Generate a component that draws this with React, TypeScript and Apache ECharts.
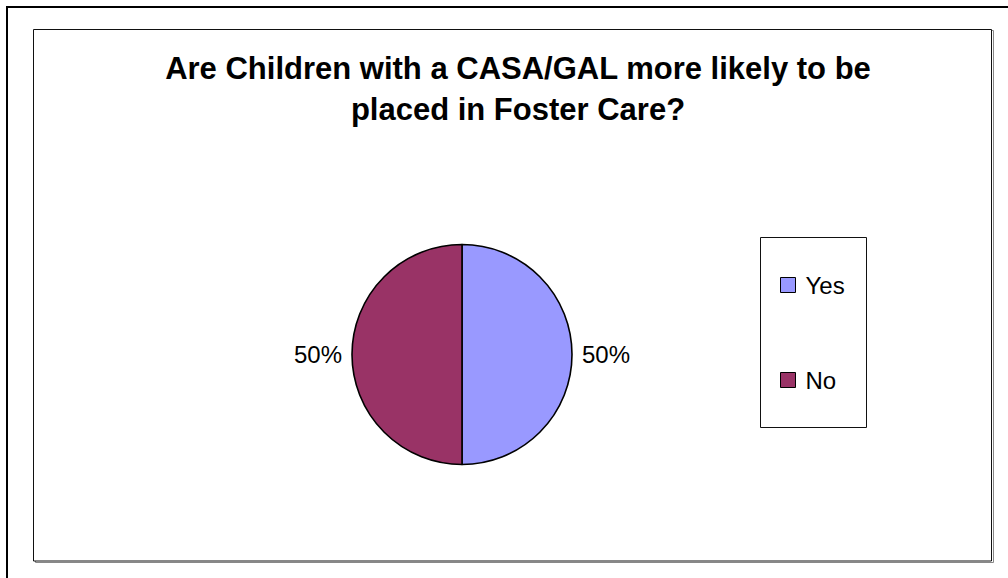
import React, { useEffect, useRef } from "react";
import * as echarts from "echarts";

const titleLines = ["Are Children with a CASA/GAL more likely to be", "placed in Foster Care?"];
const categories = ["Yes", "No"];
const values = [50, 50];
const colors = ["#9999FF", "#993366"];

export default function App() {
  const ref = useRef<HTMLDivElement>(null);
  useEffect(() => {
    document.body.style.margin = "0";
    const chart = echarts.init(ref.current!, null, { renderer: "svg" });
    const font = "'Liberation Sans', Arial, sans-serif";
    chart.setOption({
      animation: false,
      backgroundColor: "#ffffff",
      title: {
        text: titleLines.join("\n"),
        left: 513,
        top: 43,
        textAlign: "center",
        textStyle: {
          fontFamily: font,
          fontSize: 31,
          fontWeight: "bold",
          color: "#000",
          lineHeight: 41,
        },
      },
      graphic: [
        { type: "rect", shape: { x: 7, y: 7, width: 1020, height: 600 }, style: { fill: "none", stroke: "#000", lineWidth: 2 }, silent: true, z: -1 },
        { type: "rect", shape: { x: 35.5, y: 30.5, width: 958, height: 532 }, style: { fill: "none", stroke: "#888", lineWidth: 1 }, silent: true, z: -1 },
        { type: "rect", shape: { x: 33.5, y: 29.5, width: 958, height: 531.5 }, style: { fill: "#fff", stroke: "#111", lineWidth: 1 }, silent: true, z: -1 },
        { type: "rect", shape: { x: 760.5, y: 237.5, width: 106, height: 190 }, style: { fill: "#fff", stroke: "#111", lineWidth: 1 }, silent: true, z: 0 },
      ],
      legend: {
        orient: "vertical",
        left: 780,
        top: 273,
        padding: 0,
        itemWidth: 15,
        itemHeight: 15,
        itemGap: 71,
        icon: "rect",
        data: categories,
        itemStyle: { borderColor: "#000", borderWidth: 1 },
        textStyle: { fontFamily: font, fontSize: 24, color: "#000", lineHeight: 24, padding: [0, 0, 0, 5] },
        selectedMode: false,
      },
      series: [
        {
          type: "pie",
          center: [462, 354.5],
          radius: 110,
          startAngle: 90,
          clockwise: true,
          data: categories.map((c, i) => ({ name: c, value: values[i], itemStyle: { color: colors[i] } })),
          itemStyle: { borderColor: "#000", borderWidth: 1.6 },
          label: {
            show: true,
            position: "outside",
            formatter: (p: any) => Math.round(p.percent) + "%",
            fontFamily: font,
            fontSize: 24,
            color: "#000",
          },
          labelLine: { show: false, length: 5, length2: 0 },
          emphasis: { disabled: true },
        },
      ],
    });
    return () => chart.dispose();
  }, []);
  return <div ref={ref} style={{ width: 1008, height: 578 }} />;
}
